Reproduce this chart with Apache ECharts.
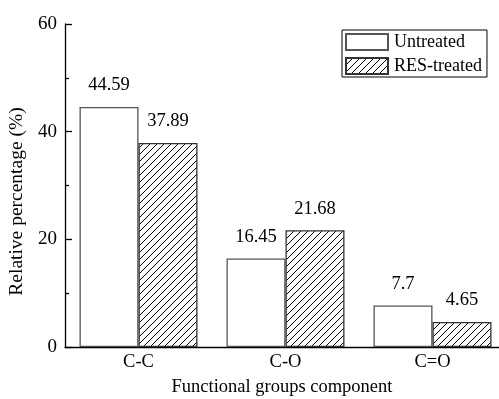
<!DOCTYPE html>
<html>
<head>
<meta charset="utf-8">
<style>
  html, body { margin: 0; padding: 0; background: #fff; }
  #chart { width: 499px; height: 399px; }
</style>
<script src="https://cdn.jsdelivr.net/npm/echarts@6/dist/echarts.min.js"></script>
</head>
<body>
<div id="chart"></div>
<script>
// Functional group shares (%) before and after RES treatment
const categories = ['C-C', 'C-O', 'C=O'];
const untreated = [44.59, 16.45, 7.7];
const resTreated = [37.89, 21.68, 4.65];
const seriesNames = ['Untreated', 'RES-treated'];

const FONT = '"Liberation Serif", "Times New Roman", serif';

// Diagonal hatch tile for the treated bars
function hatchPattern() {
  const s = 7;
  const c = document.createElement('canvas');
  c.width = s; c.height = s;
  const g = c.getContext('2d');
  g.fillStyle = '#fff';
  g.fillRect(0, 0, s, s);
  g.strokeStyle = '#000';
  g.lineWidth = 1;
  g.beginPath();
  g.moveTo(-1, s + 1); g.lineTo(s + 1, -1);
  g.moveTo(-1, 1); g.lineTo(1, -1);
  g.moveTo(s - 1, s + 1); g.lineTo(s + 1, s - 1);
  g.stroke();
  return { image: c, repeat: 'repeat' };
}

const chart = echarts.init(document.getElementById('chart'), null, { renderer: 'canvas' });

const labelStyle = {
  show: true,
  position: 'top',
  distance: 12,
  fontFamily: FONT,
  fontSize: 18.5,
  color: '#000'
};

chart.setOption({
  animation: false,
  backgroundColor: '#fff',
  textStyle: { fontFamily: FONT },
  grid: {
    left: 65, top: 24, width: 441, height: 323,
    containLabel: false,
    outerBoundsMode: 'none'
  },
  legend: {
    orient: 'vertical',
    left: 342,
    top: 30,
    padding: [3, 5, 2, 3],
    itemGap: 6,
    itemWidth: 42,
    itemHeight: 16,
    borderColor: '#000',
    borderWidth: 1,
    borderRadius: 0,
    textStyle: { fontFamily: FONT, fontSize: 18, color: '#000', padding: [0, 0, 0, 1] },
    data: seriesNames.map(n => ({ name: n, icon: 'rect' }))
  },
  xAxis: {
    type: 'category',
    data: categories,
    name: 'Functional groups component',
    nameLocation: 'middle',
    nameGap: 31,
    nameTextStyle: { fontFamily: FONT, fontSize: 18.5, color: '#000', padding: [0, 7, 0, 0] },
    axisLine: { lineStyle: { color: '#000', width: 1.3 } },
    axisTick: { show: false },
    axisLabel: { fontFamily: FONT, fontSize: 18.5, color: '#000', margin: 6 }
  },
  yAxis: {
    type: 'value',
    min: 0,
    max: 60,
    interval: 20,
    name: 'Relative percentage (%)',
    nameLocation: 'middle',
    nameGap: 32,
    nameTextStyle: { fontFamily: FONT, fontSize: 19.5, color: '#000', padding: [0, 32, 0, 0] },
    axisLine: { show: true, lineStyle: { color: '#000', width: 1.3 } },
    axisTick: { show: true, inside: true, length: 7, lineStyle: { color: '#000', width: 1.3 } },
    minorTick: { show: true, splitNumber: 2, length: 4, lineStyle: { color: '#000', width: 1.3 } },
    splitLine: { show: false },
    axisLabel: { fontFamily: FONT, fontSize: 19, color: '#000', margin: 8 }
  },
  series: [
    {
      name: seriesNames[0],
      type: 'bar',
      data: untreated,
      barWidth: 59,
      barGap: '0%',
      itemStyle: { color: '#fff', borderColor: '#555', borderWidth: 1.3 },
      label: labelStyle
    },
    {
      name: seriesNames[1],
      type: 'bar',
      data: resTreated,
      barWidth: 59,
      barGap: '0%',
      itemStyle: { color: hatchPattern(), borderColor: '#333', borderWidth: 1.3 },
      label: labelStyle
    }
  ]
});
</script>
</body>
</html>
